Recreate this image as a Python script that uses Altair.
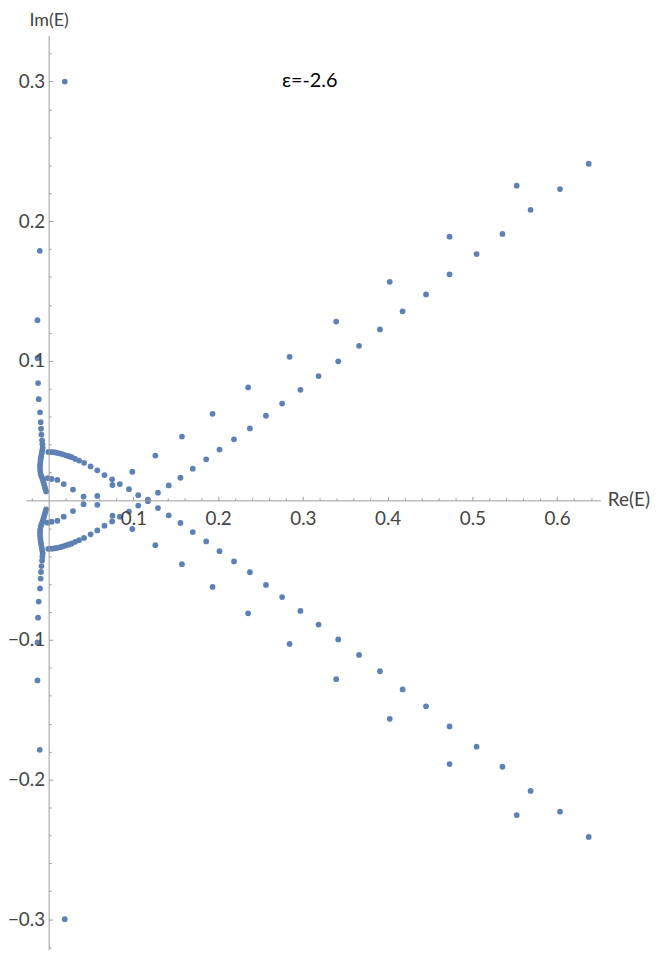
import altair as alt
import pandas as pd

# ---- data (Re(E), Im(E)) ----
# isolated pair near +/-0.3
top_re = [0.019]
top_im_up = [0.300]
top_im_dn = [-0.300]

# vertical column near Re ~ -0.01
col_re = [-0.0105, -0.0132, -0.0132, -0.0125, -0.0117, -0.0102, -0.0094, -0.0090, -0.0085, -0.0078,
          -0.0074, -0.0070, -0.0076, -0.0082, -0.0088, -0.0094, -0.0098, -0.0102, -0.0102, -0.0100,
          -0.0094, -0.0084, -0.0073, -0.0063, -0.0055, -0.0047, -0.0039, -0.0030]
col_im_up = [0.1787, 0.1290, 0.1018, 0.0840, 0.0725, 0.0631, 0.0560, 0.0513, 0.0471, 0.0430,
             0.0402, 0.0378, 0.0359, 0.0338, 0.0316, 0.0295, 0.0274, 0.0252, 0.0231, 0.0210,
             0.0188, 0.0171, 0.0153, 0.0135, 0.0117, 0.0100, 0.0082, 0.0064]
col_im_dn = [-0.1787, -0.1290, -0.1018, -0.0840, -0.0725, -0.0631, -0.0560, -0.0513, -0.0471, -0.0430,
             -0.0402, -0.0378, -0.0359, -0.0338, -0.0316, -0.0295, -0.0274, -0.0252, -0.0231, -0.0210,
             -0.0188, -0.0171, -0.0153, -0.0135, -0.0117, -0.0100, -0.0082, -0.0064]

# arc from the column to the real axis (|Im| ~ 0.035)
arc_re = [-0.0004, 0.0023, 0.0050, 0.0077, 0.0105, 0.0137, 0.0167, 0.0203, 0.0238, 0.0273, 0.0313,
          0.0359, 0.0418, 0.0495, 0.0574, 0.0659, 0.0749, 0.0840, 0.0948, 0.1057, 0.1171]
arc_im_up = [0.0347, 0.0346, 0.0345, 0.0343, 0.0340, 0.0335, 0.0330, 0.0323, 0.0316, 0.0309, 0.0297,
             0.0285, 0.0269, 0.0243, 0.0215, 0.0181, 0.0151, 0.0117, 0.0080, 0.0037, 0.0006]
arc_im_dn = [-0.0347, -0.0346, -0.0345, -0.0343, -0.0340, -0.0335, -0.0330, -0.0323, -0.0316, -0.0309, -0.0297,
             -0.0285, -0.0269, -0.0243, -0.0215, -0.0181, -0.0151, -0.0117, -0.0080, -0.0037, -0.0006]

# short branch (|Im| ~ 0.016)
br_re = [-0.0012, 0.0035, 0.0103, 0.0178, 0.0287, 0.0412]
br_im_up = [0.0160, 0.0153, 0.0146, 0.0117, 0.0077, 0.0027]
br_im_dn = [-0.0160, -0.0153, -0.0146, -0.0117, -0.0077, -0.0027]

# outer (sparse) diagonal
out_re = [0.0574, 0.0753, 0.0987, 0.1259, 0.1573, 0.1934, 0.2354, 0.2843, 0.3393, 0.4025, 0.4731, 0.5523]
out_im_up = [0.0032, 0.0110, 0.0205, 0.0321, 0.0457, 0.0620, 0.0809, 0.1028, 0.1281, 0.1565, 0.1889, 0.2254]
out_im_dn = [-0.0032, -0.0110, -0.0205, -0.0321, -0.0457, -0.0620, -0.0809, -0.1028, -0.1281, -0.1565, -0.1889, -0.2254]

# inner (dense) diagonal
in_re = [0.1290, 0.1417, 0.1555, 0.1701, 0.1859, 0.2016, 0.2187, 0.2375, 0.2564, 0.2755, 0.2971, 0.3185,
         0.3417, 0.3663, 0.3909, 0.4177, 0.4453, 0.4731, 0.5050, 0.5355, 0.5687, 0.6034, 0.6373]
in_im_up = [0.0055, 0.0107, 0.0162, 0.0227, 0.0294, 0.0364, 0.0437, 0.0515, 0.0606, 0.0693, 0.0792, 0.0890,
            0.0996, 0.1107, 0.1224, 0.1354, 0.1475, 0.1619, 0.1764, 0.1908, 0.2081, 0.2230, 0.2411]
in_im_dn = [-0.0055, -0.0107, -0.0162, -0.0227, -0.0294, -0.0364, -0.0437, -0.0515, -0.0606, -0.0693, -0.0792, -0.0890,
            -0.0996, -0.1107, -0.1224, -0.1354, -0.1475, -0.1619, -0.1764, -0.1908, -0.2081, -0.2230, -0.2411]

label_text = "ε=-2.6"

# axis tick values (major every 0.1, minor every 0.02)
x_ticks = [-0.02, 0.02, 0.04, 0.06, 0.08, 0.1, 0.12, 0.14, 0.16, 0.18, 0.2, 0.22, 0.24, 0.26, 0.28, 0.3,
           0.32, 0.34, 0.36, 0.38, 0.4, 0.42, 0.44, 0.46, 0.48, 0.5, 0.52, 0.54, 0.56, 0.58, 0.6, 0.62, 0.64]
y_ticks = [-0.32, -0.3, -0.28, -0.26, -0.24, -0.22, -0.2, -0.18, -0.16, -0.14, -0.12, -0.1, -0.08, -0.06,
           -0.04, -0.02, 0.02, 0.04, 0.06, 0.08, 0.1, 0.12, 0.14, 0.16, 0.18, 0.2, 0.22, 0.24, 0.26,
           0.28, 0.3, 0.32]

rows = []
for re_list, im_list in [(top_re, top_im_up), (top_re, top_im_dn),
                         (col_re, col_im_up), (col_re, col_im_dn),
                         (arc_re, arc_im_up), (arc_re, arc_im_dn),
                         (br_re, br_im_up), (br_re, br_im_dn),
                         (out_re, out_im_up), (out_re, out_im_dn),
                         (in_re, in_im_up), (in_re, in_im_dn)]:
    for a, b in zip(re_list, im_list):
        rows.append({"re": a, "im": b})
df = pd.DataFrame(rows)

W, H = 579, 921
X_DOM = [-0.0269, 0.6511]
Y_DOM = [-0.3216, 0.3330]
y_zero_px = (Y_DOM[1] - 0) / (Y_DOM[1] - Y_DOM[0]) * H
x_zero_px = (0 - X_DOM[0]) / (X_DOM[1] - X_DOM[0]) * W

MAJ = "abs(datum.value*10 - round(datum.value*10)) < 0.000001"
FONT = "Lato"
AXIS_COL = "#9a9a9a"
LAB_COL = "#444444"

x_axis = alt.Axis(
    values=x_ticks, orient="top", offset=-y_zero_px, grid=False,
    domainColor=AXIS_COL, tickColor=AXIS_COL, domainWidth=1, tickWidth=1,
    tickSize={"condition": {"test": MAJ, "value": 4}, "value": 2.5},
    labelExpr=MAJ + " ? format(datum.value, '.1f') : ''",
    labelBaseline="top", labelPadding=-13, labelFont=FONT, labelFontSize=19,
    labelColor=LAB_COL, labelOverlap=False, labelFlush=False,
    title="Re(E)", titleX=W + 7, titleY=-1, titleAlign="left", titleBaseline="middle",
    titleAngle=0, titleFont=FONT, titleFontSize=19, titleFontWeight="normal", titleColor=LAB_COL,
    zindex=1,
)
y_axis = alt.Axis(
    values=y_ticks, orient="right", offset=x_zero_px - W, grid=False,
    domainColor=AXIS_COL, tickColor=AXIS_COL, domainWidth=1, tickWidth=1,
    tickSize={"condition": {"test": MAJ, "value": 4}, "value": 2.5},
    labelExpr=MAJ + " ? format(datum.value, '.1f') : ''",
    labelAlign="right", labelPadding=-8, labelFont=FONT, labelFontSize=19,
    labelColor=LAB_COL, labelOverlap=False, labelFlush=False,
    title="Im(E)", titleX=0, titleY=-15, titleAlign="center", titleBaseline="middle",
    titleAngle=0, titleFont=FONT, titleFontSize=18, titleFontWeight="normal", titleColor=LAB_COL,
    zindex=1,
)

points = alt.Chart(df).mark_circle(size=34, color="#5E81B5", opacity=1).encode(
    x=alt.X("re:Q", scale=alt.Scale(domain=X_DOM, nice=False, zero=False), axis=x_axis),
    y=alt.Y("im:Q", scale=alt.Scale(domain=Y_DOM, nice=False, zero=False), axis=y_axis),
)

label = alt.Chart(pd.DataFrame({"t": [label_text]})).mark_text(
    font=FONT, fontSize=20, color="black", align="center", baseline="middle"
).encode(text="t:N", x=alt.value(286), y=alt.value(46))

chart = (points + label).properties(
    width=W, height=H, autosize="none",
    padding={"left": 18, "top": 24, "right": 53, "bottom": 0},
).configure_view(strokeOpacity=0)

chart.save("out.html", embed_options={"renderer": "svg", "actions": False})
